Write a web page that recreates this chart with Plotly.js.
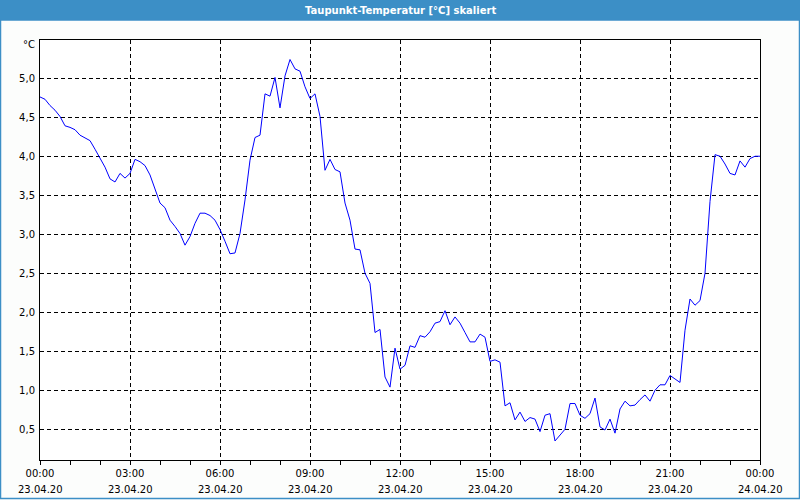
<!DOCTYPE html>
<html>
<head>
<meta charset="utf-8">
<script src="https://cdn.plot.ly/plotly-3.0.1.min.js"></script>
<style>html,body{margin:0;padding:0;background:#fcfdfc;}#chart{width:800px;height:500px;}</style>
</head>
<body>
<div id="chart"></div>
<script>
// Dew point values, one reading every 10 minutes from 23.04.20 00:00 to 24.04.20 00:00
const startTime = '2020-04-23T00:00:00';
const stepMinutes = 10;
const dewPoint = [
  4.76, 4.73, 4.65, 4.59, 4.51, 4.39,
  4.37, 4.34, 4.27, 4.24, 4.20, 4.09,
  3.97, 3.86, 3.71, 3.67, 3.78, 3.72,
  3.78, 3.96, 3.93, 3.88, 3.76, 3.59,
  3.40, 3.34, 3.18, 3.10, 3.01, 2.86,
  2.97, 3.14, 3.27, 3.27, 3.24, 3.18,
  3.06, 2.91, 2.75, 2.76, 3.01, 3.44,
  3.95, 4.24, 4.27, 4.80, 4.77, 5.01,
  4.62, 5.03, 5.24, 5.12, 5.09, 4.89,
  4.74, 4.80, 4.51, 3.82, 3.96, 3.83,
  3.80, 3.40, 3.18, 2.81, 2.80, 2.50,
  2.37, 1.74, 1.78, 1.17, 1.04, 1.54,
  1.27, 1.32, 1.57, 1.55, 1.70, 1.68,
  1.75, 1.86, 1.88, 2.02, 1.84, 1.94,
  1.86, 1.74, 1.62, 1.62, 1.72, 1.68,
  1.37, 1.39, 1.36, 0.80, 0.84, 0.62,
  0.72, 0.60, 0.65, 0.63, 0.47, 0.68,
  0.70, 0.35, 0.43, 0.50, 0.83, 0.83,
  0.68, 0.64, 0.70, 0.90, 0.53, 0.49,
  0.63, 0.45, 0.76, 0.86, 0.80, 0.81,
  0.88, 0.94, 0.86, 1.00, 1.07, 1.07,
  1.19, 1.14, 1.10, 1.77, 2.17, 2.09,
  2.15, 2.50, 3.42, 4.02, 4.00, 3.90,
  3.78, 3.76, 3.94, 3.86, 3.97, 4.00,
  4.00
];
const xTickVals = ['2020-04-23 00:00','2020-04-23 03:00','2020-04-23 06:00','2020-04-23 09:00','2020-04-23 12:00','2020-04-23 15:00','2020-04-23 18:00','2020-04-23 21:00','2020-04-24 00:00'];
const xTickTimes = ['00:00','03:00','06:00','09:00','12:00','15:00','18:00','21:00','00:00'];
const xTickDates = ['23.04.20','23.04.20','23.04.20','23.04.20','23.04.20','23.04.20','23.04.20','23.04.20','24.04.20'];
const yTickVals = [0.5, 1.0, 1.5, 2.0, 2.5, 3.0, 3.5, 4.0, 4.5, 5.0];
const titleText = 'Taupunkt-Temperatur [°C] skaliert';
const unitText = '°C';

function pad(n){return (n<10?'0':'')+n;}
const t0 = new Date(startTime + 'Z').getTime();
const times = dewPoint.map((v,i)=>{
  const d = new Date(t0 + i*stepMinutes*60000);
  return d.getUTCFullYear()+'-'+pad(d.getUTCMonth()+1)+'-'+pad(d.getUTCDate())+' '+pad(d.getUTCHours())+':'+pad(d.getUTCMinutes());
});

const W=800,H=500,L=40,R=40,T=40,B=40;
const pw=W-L-R, ph=H-T-B;
const px=x=>(x-L)/pw;
const py=y=>(H-B-y)/ph;

const trace = {
  x: times, y: dewPoint, type:'scatter', mode:'lines',
  line:{color:'#0000ff', width:1}, hoverinfo:'skip'
};
const tickFont = {family:'DejaVu Sans, Verdana, sans-serif', size:10, color:'#000'};
const dateAnnotations = xTickVals.map((v,i)=>({
  text:xTickDates[i], xref:'x', yref:'paper', x:v, y:py(489), xanchor:'center', yanchor:'middle',
  showarrow:false, font:tickFont
}));
const layout = {
  width:W, height:H,
  margin:{l:L, r:R, t:T, b:B, pad:0},
  paper_bgcolor:'#fcfdfc', plot_bgcolor:'#ffffff',
  separators:',.',
  showlegend:false,
  xaxis:{
    type:'date',
    range:['2020-04-23 00:00','2020-04-24 00:00'],
    tickmode:'array', tickvals:xTickVals, ticktext:xTickTimes,
    ticks:'outside', ticklen:4, tickcolor:'#000', tickwidth:1,
    minor:{dtick:3600000, ticks:'outside', ticklen:4, tickcolor:'#000', tickwidth:1, showgrid:false},
    showgrid:true, gridcolor:'#000', gridwidth:1, griddash:'4px,3px',
    showline:true, linecolor:'#000', linewidth:1, mirror:true,
    zeroline:false, tickfont:tickFont, fixedrange:true
  },
  yaxis:{
    range:[0.106, 5.49],
    tickmode:'array', tickvals:yTickVals, tickformat:'.1f',
    ticks:'', showgrid:true, gridcolor:'#000', gridwidth:1, griddash:'4px,3px',
    showline:true, linecolor:'#000', linewidth:1, mirror:true,
    zeroline:false, tickfont:tickFont, ticklabelstandoff:2, fixedrange:true
  },
  shapes:[
    {type:'rect', xref:'paper', yref:'paper', x0:px(0), x1:px(800), y0:py(0), y1:py(20),
     fillcolor:'#3c8fc6', line:{width:0}, layer:'above'},
    {type:'rect', xref:'paper', yref:'paper', x0:px(0.5), x1:px(799.5), y0:py(20), y1:py(498.5),
     fillcolor:'rgba(0,0,0,0)', line:{color:'#3c8fc6', width:1.5}, layer:'above'}
  ],
  annotations:[
    {text:titleText, xref:'paper', yref:'paper', x:px(400), y:py(10), xanchor:'center', yanchor:'middle',
     showarrow:false, font:{family:'DejaVu Sans, Verdana, sans-serif', size:10, color:'#ffffff', weight:'bold'}},
    {text:unitText, xref:'paper', yref:'paper', x:px(37), y:py(45), xanchor:'right', yanchor:'middle',
     showarrow:false, font:tickFont}
  ].concat(dateAnnotations)
};
Plotly.newPlot('chart',[trace],layout,{displayModeBar:false, staticPlot:true});
</script>
</body>
</html>
